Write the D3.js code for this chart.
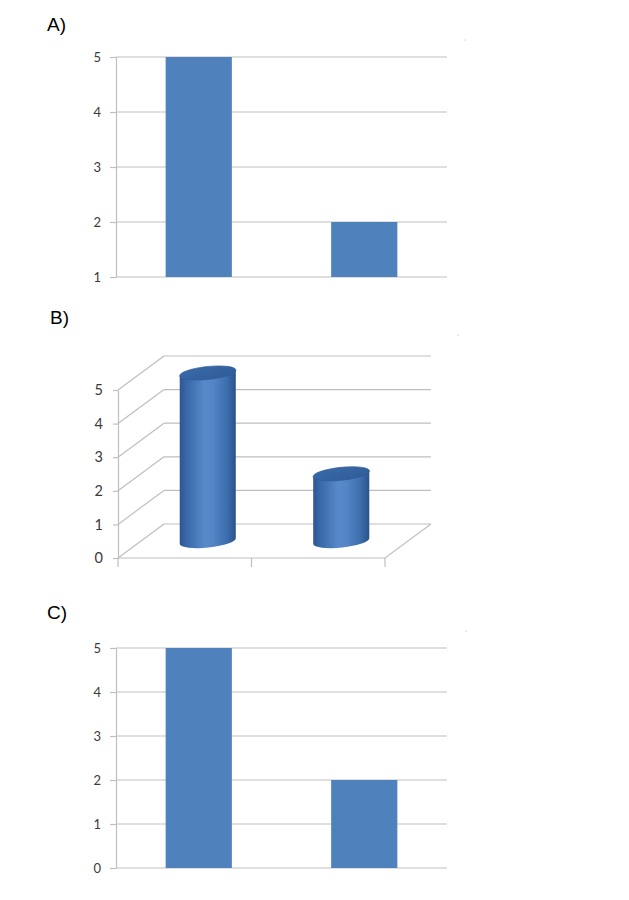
<!DOCTYPE html>
<html>
<head>
<meta charset="utf-8">
<script src="https://cdn.jsdelivr.net/npm/d3@7"></script>
<style>
  body { margin: 0; background: #fff; }
  svg { display: block; }
  .tick text { font-family: Lato, "Open Sans", sans-serif; fill: #3a3a3a; }
  .panel-label { font-family: "Liberation Sans", Arial, sans-serif; font-size: 19px; fill: #000; }
</style>
</head>
<body>
<svg id="chart" width="629" height="900"></svg>
<script>
// chart values
const categories = ["c1", "c2"];
const valuesA = [5, 2];
const valuesB = [5, 2];
const valuesC = [5, 2];
const ticksA = [1, 2, 3, 4, 5];
const ticksB = [0, 1, 2, 3, 4, 5];
const ticksC = [0, 1, 2, 3, 4, 5];
const panelLabels = ["A)", "B)", "C)"];

const gridColor = "#bfbfbf";
const barColor = "#4f81bd";

let svg = d3.select("#chart");

// defs for the cylinder shading
let defs = svg.append("defs");
let bodyGrad = defs.append("linearGradient")
  .attr("id", "cylBody")
  .attr("x1", "0%").attr("x2", "100%").attr("y1", "0%").attr("y2", "0%");
[[0, "#2c5592"], [0.12, "#3968a9"], [0.45, "#5889c9"], [0.6, "#5385c6"], [0.85, "#3c6cab"], [1, "#2b528d"]]
  .forEach(s => bodyGrad.append("stop").attr("offset", s[0]).attr("stop-color", s[1]));
let topGrad = defs.append("linearGradient")
  .attr("id", "cylTop")
  .attr("x1", "0%").attr("x2", "100%").attr("y1", "0%").attr("y2", "100%");
[[0, "#3a6aa9"], [1, "#2f5c98"]]
  .forEach(s => topGrad.append("stop").attr("offset", s[0]).attr("stop-color", s[1]));

/**
 * Flat column chart (panels A and C)
 */
function flatPanel(label, values, ticks, top, bottom, labelY) {
  let left = 116, right = 447;
  let g = svg.append("g");

  g.append("text")
    .attr("class", "panel-label")
    .attr("x", 47).attr("y", labelY)
    .text(label);

  let x = d3.scaleBand()
    .domain(categories)
    .range([left, right])
    .paddingInner(0.6)
    .paddingOuter(0.3);

  let y = d3.scaleLinear()
    .domain([d3.min(ticks), d3.max(ticks)])
    .range([bottom, top]);

  // gridlines
  g.selectAll(".grid")
    .data(ticks)
    .enter().append("line")
    .attr("x1", left).attr("x2", right)
    .attr("y1", d => y(d)).attr("y2", d => y(d))
    .attr("stroke", gridColor)
    .attr("stroke-width", 1.2);

  // axis
  let axis = g.append("g")
    .attr("transform", "translate(" + left + ",0)")
    .call(d3.axisLeft(y).tickValues(ticks).tickSize(6).tickSizeOuter(0).tickPadding(9)
      .tickFormat(d3.format("d")));
  axis.selectAll("path, line").attr("stroke", gridColor).attr("stroke-width", 1.2);
  axis.selectAll("text").style("font-size", "13px");

  // bars
  g.selectAll(".bar")
    .data(values)
    .enter().append("rect")
    .attr("x", (d, i) => x(categories[i]))
    .attr("width", x.bandwidth())
    .attr("y", d => y(d))
    .attr("height", d => y(y.domain()[0]) - y(d))
    .attr("fill", barColor);
}

/**
 * 3-D cylinder chart (panel B)
 */
function cylinderPanel(label, values, ticks) {
  let x0 = 118, x1 = 385, y0 = 558, yTop = 390;
  let dx = 46, dy = -34;
  let g = svg.append("g");

  g.append("text")
    .attr("class", "panel-label")
    .attr("x", 50).attr("y", 324)
    .text(label);

  let x = d3.scaleBand()
    .domain(categories)
    .range([x0, x1])
    .paddingInner(0.58)
    .paddingOuter(0.29);

  let y = d3.scaleLinear()
    .domain([0, d3.max(ticks)])
    .range([y0, yTop]);

  // back wall gridlines
  g.selectAll(".back")
    .data(ticks)
    .enter().append("line")
    .attr("x1", x0 + dx).attr("x2", x1 + dx)
    .attr("y1", d => y(d) + dy).attr("y2", d => y(d) + dy)
    .attr("stroke", gridColor).attr("stroke-width", 1.2);

  // side wall diagonals
  g.selectAll(".side")
    .data(ticks)
    .enter().append("line")
    .attr("x1", x0).attr("x2", x0 + dx)
    .attr("y1", d => y(d)).attr("y2", d => y(d) + dy)
    .attr("stroke", gridColor).attr("stroke-width", 1.2);

  // floor edges
  g.append("path")
    .attr("d", "M" + x0 + "," + y0 + "L" + x1 + "," + y0 + "L" + (x1 + dx) + "," + (y0 + dy))
    .attr("fill", "none")
    .attr("stroke", gridColor).attr("stroke-width", 1.2);

  // category ticks under the floor
  let catTicks = [x0, x0 + x.step(), x1];
  g.selectAll(".cat")
    .data(catTicks)
    .enter().append("line")
    .attr("x1", d => d).attr("x2", d => d)
    .attr("y1", y0).attr("y2", y0 + 9)
    .attr("stroke", gridColor).attr("stroke-width", 1.2);

  // value axis
  let axis = g.append("g")
    .attr("transform", "translate(" + x0 + ",0)")
    .call(d3.axisLeft(y).tickValues(ticks).tickSize(5).tickSizeOuter(0).tickPadding(10)
      .tickFormat(d3.format("d")));
  axis.selectAll("path, line").attr("stroke", gridColor).attr("stroke-width", 1.2);
  axis.selectAll("text").style("font-size", "14.5px");

  // cylinders
  let rx = x.bandwidth() / 2, ry = 6.5, tilt = 3;
  let cyl = g.selectAll(".cyl")
    .data(values)
    .enter().append("g");

  cyl.append("path")
    .attr("d", (d, i) => {
      let cx = x(categories[i]) + rx + dx / 2;
      let bot = y(0) + dy / 2;
      let top = y(d) + dy / 2;
      return "M" + (cx - rx) + "," + (top + tilt)
        + "L" + (cx - rx) + "," + (bot + tilt)
        + "A" + rx + "," + ry + " -6 0 0 " + (cx + rx) + "," + (bot - tilt)
        + "L" + (cx + rx) + "," + (top - tilt) + "Z";
    })
    .attr("fill", "url(#cylBody)");

  cyl.append("ellipse")
    .attr("transform", (d, i) => {
      let cx = x(categories[i]) + rx + dx / 2;
      let top = y(d) + dy / 2;
      return "translate(" + cx + "," + top + ") rotate(-6)";
    })
    .attr("rx", rx + 0.3).attr("ry", ry)
    .attr("fill", "url(#cylTop)")
    .attr("stroke", "#2f5c98").attr("stroke-width", 0.6);
}

flatPanel(panelLabels[0], valuesA, ticksA, 57, 277, 31);
cylinderPanel(panelLabels[1], valuesB, ticksB);
flatPanel(panelLabels[2], valuesC, ticksC, 648, 868, 619);

// faint specks at the top right of each panel in the scan
svg.selectAll(".speck")
  .data([[465, 40], [458, 335], [466, 631]])
  .enter().append("circle")
  .attr("cx", d => d[0]).attr("cy", d => d[1])
  .attr("r", 0.6)
  .attr("fill", "#b0b0b0");
</script>
</body>
</html>
